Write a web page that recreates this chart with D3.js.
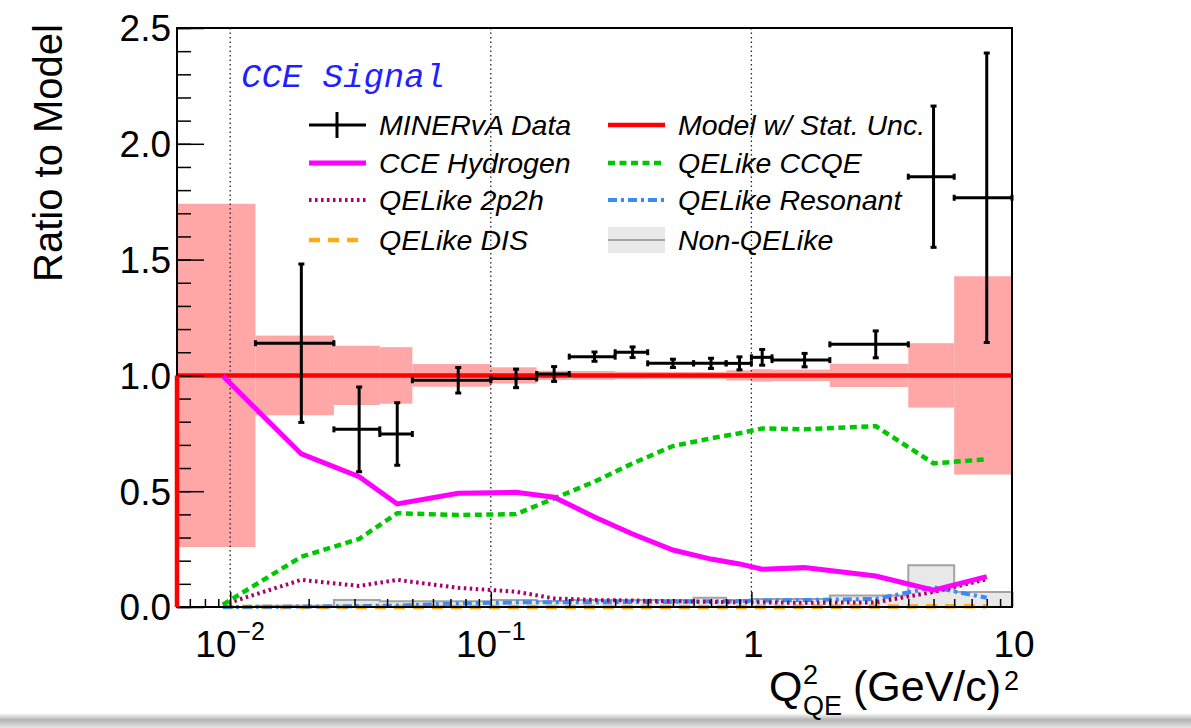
<!DOCTYPE html>
<html>
<head>
<meta charset="utf-8">
<script src="https://cdn.jsdelivr.net/npm/d3@7"></script>
<style>
  body { margin: 0; background: #fff; }
  svg text { font-family: "Liberation Sans", Arial, sans-serif; }
</style>
</head>
<body>
<div id="chart"></div>
<script>
// Q2_QE bin edges (GeV/c)^2
const binEdges = [0.00625, 0.0125, 0.025, 0.0375, 0.05, 0.1, 0.15, 0.2, 0.3, 0.4, 0.6, 0.8, 1.0, 1.2, 2.0, 4.0, 6.0, 10.0];

// MINERvA data / model ratio and its error, one per bin (no data in first bin)
const dataRatio = [null, 1.139, 0.767, 0.747, 0.979, 0.987, 1.006, 1.081, 1.100, 1.052, 1.052, 1.052, 1.078, 1.066, 1.134, 1.858, 1.767];
const dataErr   = [null, 0.342, 0.183, 0.135, 0.055, 0.040, 0.032, 0.020, 0.023, 0.018, 0.022, 0.028, 0.034, 0.029, 0.058, 0.305, 0.625];

// model (=1) and its statistical uncertainty
const modelRatio = [1, 1, 1, 1, 1, 1, 1, 1, 1, 1, 1, 1, 1, 1, 1, 1, 1];
const modelErr   = [0.741, 0.172, 0.128, 0.122, 0.049, 0.035, 0.020, 0.019, 0.016, 0.015, 0.015, 0.022, 0.027, 0.025, 0.050, 0.139, 0.428];

// components, ratio to model
const cceHydrogen = [0.997, 0.661, 0.563, 0.445, 0.491, 0.495, 0.474, 0.389, 0.315, 0.246, 0.207, 0.186, 0.163, 0.170, 0.134, 0.073, 0.131];
const qeCCQE      = [0.010, 0.217, 0.294, 0.405, 0.397, 0.401, 0.469, 0.541, 0.620, 0.695, 0.728, 0.750, 0.771, 0.767, 0.781, 0.620, 0.638];
const qe2p2h      = [0.010, 0.117, 0.091, 0.117, 0.083, 0.066, 0.037, 0.030, 0.028, 0.025, 0.022, 0.020, 0.020, 0.018, 0.020, 0.065, 0.120];
const qeResonant  = [0.000, 0.002, 0.004, 0.006, 0.015, 0.020, 0.020, 0.020, 0.022, 0.022, 0.025, 0.025, 0.028, 0.030, 0.035, 0.085, 0.040];
const qeDIS       = [0.000, 0.000, 0.000, 0.000, 0.000, 0.000, 0.000, 0.000, 0.000, 0.000, 0.000, 0.000, 0.000, 0.001, 0.002, 0.003, 0.003];
const nonQELike   = [0.000, 0.005, 0.030, 0.025, 0.025, 0.030, 0.025, 0.030, 0.030, 0.030, 0.040, 0.030, 0.035, 0.035, 0.050, 0.180, 0.065];

// axis ticks
const yMajorTicks = [0, 0.5, 1.0, 1.5, 2.0, 2.5];
const xMajorTicks = [0.01, 0.1, 1, 10];
const xTickLabels = [["10", "\u22122"], ["10", "\u22121"], ["1", ""], ["10", ""]];

const legendLeft  = ["MINERvA Data", "CCE Hydrogen", "QELike 2p2h", "QELike DIS"];
const legendRight = ["Model w/ Stat. Unc.", "QELike CCQE", "QELike Resonant", "Non-QELike"];


let margin = {top: 28, right: 179, bottom: 121, left: 177};
let width = 1191 - margin.left - margin.right;
let height = 728 - margin.top - margin.bottom;

let root = d3.select("#chart").append("svg")
    .attr("width", 1191)
    .attr("height", 728);

// window shadow along the bottom
let grad = root.append("defs").append("linearGradient")
    .attr("id", "shade").attr("x1", 0).attr("x2", 0).attr("y1", 0).attr("y2", 1);
grad.append("stop").attr("offset", "0%").attr("stop-color", "#fff");
grad.append("stop").attr("offset", "45%").attr("stop-color", "#b4b4b4");
grad.append("stop").attr("offset", "100%").attr("stop-color", "#e6e6e6");
root.append("rect").attr("x", 0).attr("y", 713).attr("width", 1191).attr("height", 15).attr("fill", "url(#shade)");

let svg = root.append("g")
    .attr("transform", "translate(" + margin.left + "," + margin.top + ")");

// Scales
let x = d3.scaleLog().domain([binEdges[0], binEdges[binEdges.length - 1]]).range([0, width]);
let y = d3.scaleLinear().domain([0, 2.5]).range([height, 0]);

let bins = d3.range(binEdges.length - 1).map(i => ({
    lo: binEdges[i],
    hi: binEdges[i + 1],
    c: (binEdges[i] + binEdges[i + 1]) / 2,
    i: i
}));

// model stat. uncertainty band
svg.selectAll(".band").data(bins).enter().append("rect")
    .attr("class", "band")
    .attr("x", d => x(d.lo))
    .attr("width", d => x(d.hi) - x(d.lo))
    .attr("y", d => y(modelRatio[d.i] + modelErr[d.i]))
    .attr("height", d => y(modelRatio[d.i] - modelErr[d.i]) - y(modelRatio[d.i] + modelErr[d.i]))
    .attr("fill", "#ffa6a6");

// vertical dotted grid at decades
svg.selectAll(".grid").data(xMajorTicks.slice(0, 3)).enter().append("line")
    .attr("x1", d => x(d)).attr("x2", d => x(d))
    .attr("y1", 0).attr("y2", height)
    .attr("stroke", "#222").attr("stroke-width", 1.3)
    .attr("stroke-dasharray", "1.5,3");

// Non-QELike histogram
let stepArea = d3.area()
    .curve(d3.curveStepAfter)
    .x(d => x(d[0]))
    .y0(height)
    .y1(d => y(d[1]));
let nonQEPts = bins.map(d => [d.lo, nonQELike[d.i]]).concat([[binEdges[binEdges.length - 1], nonQELike[nonQELike.length - 1]]]);
svg.append("path")
    .datum(nonQEPts)
    .attr("d", stepArea)
    .attr("fill", "#e8e8e8")
    .attr("stroke", "#a3a3a3")
    .attr("stroke-width", 2);

// model line at 1
let line = d3.line().x(d => x(d[0])).y(d => y(d[1]));
svg.append("path")
    .datum(bins.map(d => [d.lo, modelRatio[d.i]]).concat([[binEdges[binEdges.length - 1], 1]]))
    .attr("d", d3.line().curve(d3.curveStepAfter).x(d => x(d[0])).y(d => y(d[1])))
    .attr("fill", "none")
    .attr("stroke", "#ff0000")
    .attr("stroke-width", 4.5);

// component curves through bin centres
let curves = [
    {vals: qeDIS, color: "#ffab12", w: 4.5, dash: "11,8"},
    {vals: qeResonant, color: "#3a8cf5", w: 4, dash: "9,4,3,4"},
    {vals: qe2p2h, color: "#a6006a", w: 4, dash: "2.5,3.5"},
    {vals: qeCCQE, color: "#00c800", w: 4.5, dash: "7,4.5"},
    {vals: cceHydrogen, color: "#ff00ff", w: 5, dash: null}
];
curves.forEach(function (c) {
    svg.append("path")
        .datum(bins.map(d => [d.c, c.vals[d.i]]))
        .attr("d", line)
        .attr("fill", "none")
        .attr("stroke", c.color)
        .attr("stroke-width", c.w)
        .attr("stroke-dasharray", c.dash);
});

// data points with error bars
let pts = bins.filter(d => dataRatio[d.i] !== null);
let g = svg.selectAll(".pt").data(pts).enter().append("g")
    .attr("stroke", "#000").attr("stroke-width", 3);
g.append("line")
    .attr("x1", d => x(d.lo)).attr("x2", d => x(d.hi))
    .attr("y1", d => y(dataRatio[d.i])).attr("y2", d => y(dataRatio[d.i]));
g.append("line")
    .attr("x1", d => x(d.c)).attr("x2", d => x(d.c))
    .attr("y1", d => y(dataRatio[d.i] + dataErr[d.i])).attr("y2", d => y(dataRatio[d.i] - dataErr[d.i]));
// caps
[d => x(d.lo), d => x(d.hi)].forEach(function (fx) {
    g.append("line")
        .attr("x1", fx).attr("x2", fx)
        .attr("y1", d => y(dataRatio[d.i]) - 3).attr("y2", d => y(dataRatio[d.i]) + 3);
});
[1, -1].forEach(function (s) {
    g.append("line")
        .attr("x1", d => x(d.c) - 3).attr("x2", d => x(d.c) + 3)
        .attr("y1", d => y(dataRatio[d.i] + s * dataErr[d.i])).attr("y2", d => y(dataRatio[d.i] + s * dataErr[d.i]));
});

// Axes
let yMinor = d3.range(0, 26).map(v => v / 10);
svg.append("g")
    .call(d3.axisLeft(y).tickValues(yMinor).tickSize(-14).tickFormat(""))
    .call(s => s.select(".domain").remove())
    .selectAll("line").attr("stroke-width", 1.5);
svg.append("g")
    .call(d3.axisLeft(y).tickValues(yMajorTicks).tickSize(-27).tickPadding(6).tickFormat(d3.format(".1f")))
    .call(s => s.select(".domain").remove())
    .call(s => s.selectAll("line").attr("stroke-width", 1.5))
    .call(s => s.selectAll("text").attr("font-size", 37).attr("dy", "0.35em"));

let xMinor = [];
[0.001, 0.01, 0.1, 1].forEach(dec => d3.range(2, 10).forEach(k => {
    let v = k * dec;
    if (v > binEdges[0] && v < 10) xMinor.push(v);
}));
svg.append("g")
    .attr("transform", "translate(0," + height + ")")
    .call(d3.axisBottom(x).tickValues(xMinor).tickSize(-8).tickFormat(""))
    .call(s => s.select(".domain").remove())
    .selectAll("line").attr("stroke-width", 1.5);
svg.append("g")
    .attr("transform", "translate(0," + height + ")")
    .call(d3.axisBottom(x).tickValues(xMajorTicks).tickSize(-15).tickFormat(""))
    .call(s => s.select(".domain").remove())
    .selectAll("line").attr("stroke-width", 1.5);

let xl = svg.selectAll(".xlab").data(xMajorTicks).enter().append("text")
    .attr("x", (d, i) => x(d) + (xTickLabels[i][1] ? 0 : 2))
    .attr("y", height + 50)
    .attr("text-anchor", "middle")
    .attr("font-size", 37);
xl.append("tspan").text((d, i) => xTickLabels[i][0]);
xl.append("tspan")
    .attr("font-size", 25)
    .attr("dy", -17)
    .text((d, i) => xTickLabels[i][1]);

// frame
svg.append("rect")
    .attr("width", width).attr("height", height)
    .attr("fill", "none").attr("stroke", "#000").attr("stroke-width", 2);
// model line rises from 0 on the left edge, over the frame
svg.append("line")
    .attr("x1", 0).attr("x2", 0).attr("y1", y(0)).attr("y2", y(modelRatio[0]))
    .attr("stroke", "#ff0000").attr("stroke-width", 4.5);

// axis titles
root.append("text")
    .attr("transform", "translate(62,153) rotate(-90)")
    .attr("text-anchor", "middle")
    .attr("font-size", 40)
    .text("Ratio to Model");

let tx = root.append("g").attr("font-size", 43);
tx.append("text").attr("x", 769).attr("y", 701).text("Q");
tx.append("text").attr("x", 803).attr("y", 684).attr("font-size", 27).text("2");
tx.append("text").attr("x", 803).attr("y", 715).attr("font-size", 27).text("QE");
tx.append("text").attr("x", 853).attr("y", 701).text("(GeV/c)");
tx.append("text").attr("x", 1004).attr("y", 690).attr("font-size", 27).text("2");

// CCE Signal label
svg.append("text")
    .attr("x", 64).attr("y", 59)
    .style("font-family", "'Liberation Mono', 'DejaVu Sans Mono', monospace")
    .style("font-style", "italic")
    .attr("font-size", 34)
    .attr("fill", "#1f1fff")
    .text("CCE Signal");

// Legend
let rowY = [97, 135, 172, 212];
let legL = svg.append("g").attr("transform", "translate(132,0)");
let legR = svg.append("g").attr("transform", "translate(431,0)");

function legText(gg, labels) {
    gg.selectAll("text.leg").data(labels).enter().append("text")
        .attr("class", "leg")
        .attr("x", 70).attr("y", (d, i) => rowY[i] + 10)
        .attr("font-size", 28.5)
        .attr("font-style", "italic")
        .text(d => d);
}
legText(legL, legendLeft);
legText(legR, legendRight);

// left column samples
legL.append("line").attr("x1", 0).attr("x2", 57).attr("y1", rowY[0]).attr("y2", rowY[0])
    .attr("stroke", "#000").attr("stroke-width", 3);
legL.append("line").attr("x1", 28).attr("x2", 28).attr("y1", rowY[0] - 13).attr("y2", rowY[0] + 13)
    .attr("stroke", "#000").attr("stroke-width", 3);
legL.append("line").attr("x1", 0).attr("x2", 57).attr("y1", rowY[1]).attr("y2", rowY[1])
    .attr("stroke", "#ff00ff").attr("stroke-width", 5);
legL.append("line").attr("x1", 0).attr("x2", 57).attr("y1", rowY[2]).attr("y2", rowY[2])
    .attr("stroke", "#a6006a").attr("stroke-width", 4).attr("stroke-dasharray", "2.5,3.5");
legL.append("line").attr("x1", 0).attr("x2", 57).attr("y1", rowY[3]).attr("y2", rowY[3])
    .attr("stroke", "#ffab12").attr("stroke-width", 4.5).attr("stroke-dasharray", "11,8");

// right column samples
legR.append("line").attr("x1", 0).attr("x2", 57).attr("y1", rowY[0]).attr("y2", rowY[0])
    .attr("stroke", "#ff0000").attr("stroke-width", 4.5);
legR.append("line").attr("x1", 0).attr("x2", 57).attr("y1", rowY[1]).attr("y2", rowY[1])
    .attr("stroke", "#00c800").attr("stroke-width", 4.5).attr("stroke-dasharray", "7,4.5");
legR.append("line").attr("x1", 0).attr("x2", 57).attr("y1", rowY[2]).attr("y2", rowY[2])
    .attr("stroke", "#3a8cf5").attr("stroke-width", 4).attr("stroke-dasharray", "9,4,3,4");
legR.append("rect").attr("x", 0).attr("y", rowY[3] - 13).attr("width", 57).attr("height", 26)
    .attr("fill", "#e8e8e8");
legR.append("line").attr("x1", 0).attr("x2", 57).attr("y1", rowY[3]).attr("y2", rowY[3])
    .attr("stroke", "#a3a3a3").attr("stroke-width", 2);
</script>
</body>
</html>
